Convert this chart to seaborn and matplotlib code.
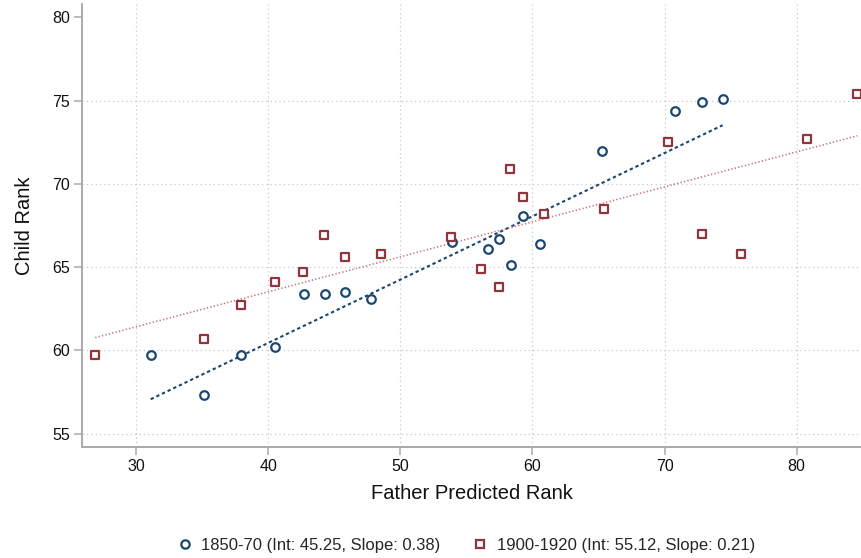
import numpy as np
import pandas as pd
import matplotlib
matplotlib.use("Agg")
import matplotlib.pyplot as plt
from matplotlib.lines import Line2D
import seaborn as sns

# ---- data ----
x_1850 = [31.1, 35.1, 37.9, 40.5, 42.7, 44.3, 45.8, 47.8, 53.9, 56.6, 57.5,
          58.4, 59.3, 60.6, 65.3, 70.8, 72.8, 74.4]
y_1850 = [59.7, 57.3, 59.7, 60.2, 63.4, 63.4, 63.5, 63.1, 66.5, 66.1, 66.7,
          65.1, 68.1, 66.4, 72.0, 74.4, 74.9, 75.1]
x_1900 = [26.9, 35.1, 37.9, 40.5, 42.6, 44.2, 45.8, 48.5, 53.8, 56.1, 57.5,
          58.3, 59.3, 60.9, 65.4, 70.3, 72.8, 75.8, 80.8, 84.6]
y_1900 = [59.7, 60.7, 62.7, 64.1, 64.7, 66.9, 65.6, 65.8, 66.8, 64.9, 63.8,
          70.9, 69.2, 68.2, 68.5, 72.5, 67.0, 65.8, 72.7, 75.4]
int_1850, slope_1850 = 45.25, 0.38
int_1900, slope_1900 = 55.12, 0.21
labels = ["1850-70 (Int: 45.25, Slope: 0.38)",
          "1900-1920 (Int: 55.12, Slope: 0.21)"]
x_ticks = [30, 40, 50, 60, 70, 80]
y_ticks = [55, 60, 65, 70, 75, 80]

# ---- style ----
sns.set_theme(style="white")
plt.rcParams["font.family"] = ["Liberation Sans", "DejaVu Sans"]

blue = "#1a476f"
red = "#90353b"
grid_c = "#c8c8c8"
spine_c = "#aaaaaa"

fig = plt.figure(figsize=(8.62, 5.58), dpi=100)
ax = fig.add_axes([82 / 862, (558 - 447) / 558, (862 - 82) / 862, (447 - 4) / 558])

df1 = pd.DataFrame({"x": x_1850, "y": y_1850})
df2 = pd.DataFrame({"x": x_1900, "y": y_1900})

# fitted lines from reported intercepts / slopes
xs1 = np.array([min(x_1850), max(x_1850)])
xs2 = np.array([min(x_1900), max(x_1900)])
sns.lineplot(x=xs1, y=int_1850 + slope_1850 * xs1, ax=ax, color=blue,
             linewidth=1.5, dashes=(1.6, 1.4), zorder=2)
sns.lineplot(x=xs2, y=int_1900 + slope_1900 * xs2, ax=ax, color="#c07a80",
             linewidth=1.2, linestyle=(0, (0.8, 1.3)), zorder=2)

sns.scatterplot(data=df1, x="x", y="y", ax=ax, marker="o", s=38,
                facecolor="white", edgecolor=blue, linewidth=1.6, zorder=3)
sns.scatterplot(data=df2, x="x", y="y", ax=ax, marker="s", s=36,
                facecolor="white", edgecolor=red, linewidth=1.6, zorder=3)

ax.set_xlim(25.9, 84.95)
ax.set_ylim(54.2, 80.8)
ax.set_xticks(x_ticks)
ax.set_yticks(y_ticks)
ax.set_xticklabels([str(t) for t in x_ticks])
ax.set_yticklabels([str(t) for t in y_ticks])

ax.grid(True, color=grid_c, linestyle=(0, (1, 2.5)), linewidth=0.9)
ax.set_axisbelow(True)
ax.yaxis.get_gridlines()[-1].set_visible(False)

for s in ["top", "right"]:
    ax.spines[s].set_visible(False)
for s in ["left", "bottom"]:
    ax.spines[s].set_color(spine_c)
    ax.spines[s].set_linewidth(1.4)

ax.tick_params(axis="both", which="major", direction="out", length=5.5,
               width=1.1, color=spine_c, labelsize=11.5, labelcolor="#111111",
               bottom=True, left=True, pad=3)

ax.set_xlabel("Father Predicted Rank", fontsize=14.5, color="#111111", labelpad=7)
ax.set_ylabel("Child Rank", fontsize=14.5, color="#111111", labelpad=13)

handles = [
    Line2D([], [], marker="o", linestyle="none", markersize=6,
           markerfacecolor="white", markeredgecolor=blue, markeredgewidth=1.6),
    Line2D([], [], marker="s", linestyle="none", markersize=6,
           markerfacecolor="white", markeredgecolor=red, markeredgewidth=1.6),
]
ax.legend(handles, labels, loc="center", bbox_to_anchor=(0.491, -0.222),
          ncol=2, frameon=False, fontsize=12, handletextpad=0.4,
          columnspacing=1.8, handlelength=1.2)

fig.savefig("out.png", dpi=100)
